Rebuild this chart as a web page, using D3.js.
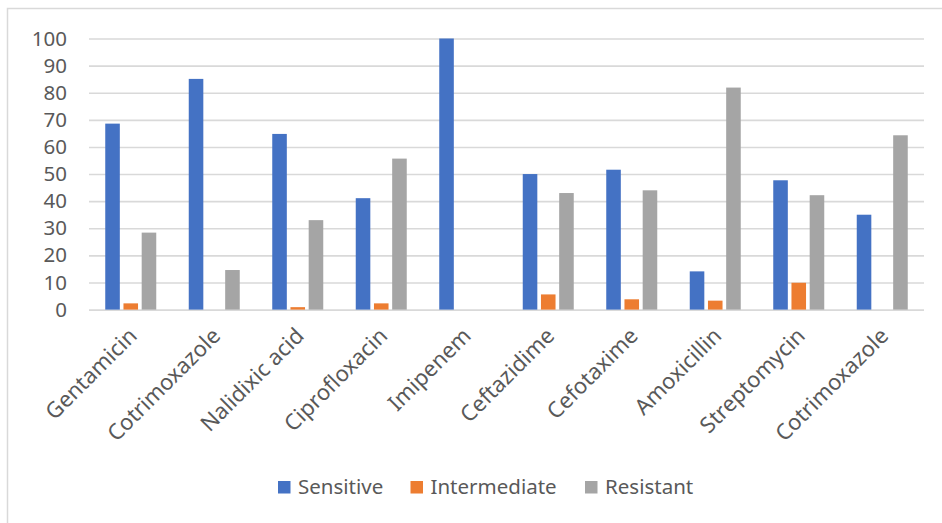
<!DOCTYPE html>
<html>
<head>
<meta charset="utf-8">
<script src="https://cdn.jsdelivr.net/npm/d3@7"></script>
<style>
  html, body { margin: 0; padding: 0; background: #fff; }
  svg { display: block; }
  text { font-family: "Noto Sans", "Open Sans", sans-serif; fill: #595959; }
</style>
</head>
<body>
<svg id="chart" width="942" height="523"></svg>
<script>
// Antibiotic susceptibility (%) by drug
const drugs = ["Gentamicin", "Cotrimoxazole", "Nalidixic acid", "Ciprofloxacin", "Imipenem",
               "Ceftazidime", "Cefotaxime", "Amoxicillin", "Streptomycin", "Cotrimoxazole"];
const sensitive    = [68.6, 85.1, 64.8, 41.1, 100, 50.0, 51.6, 14.1, 47.7, 35.0];
const intermediate = [2.3, 0, 0.9, 2.3, 0, 5.6, 3.8, 3.3, 9.9, 0];
const resistant    = [28.4, 14.6, 33.0, 55.7, 0, 43.0, 44.0, 81.9, 42.2, 64.3];
const seriesNames  = ["Sensitive", "Intermediate", "Resistant"];
const seriesColors = ["#4472C4", "#ED7D31", "#A5A5A5"];
const yTicks = [0, 10, 20, 30, 40, 50, 60, 70, 80, 90, 100];

const svg = d3.select("#chart");

// chart frame (left and top edges visible)
svg.append("path")
  .attr("d", "M7.5,523 L7.5,8.5 L942,8.5")
  .attr("fill", "none").attr("stroke", "#d9d9d9").attr("stroke-width", 1.5);

const plot = { left: 89, right: 924, top: 38.5, bottom: 309.6 };

const y = d3.scaleLinear().domain([0, 100]).range([plot.bottom, plot.top]);
const x0 = d3.scaleBand().domain(d3.range(drugs.length)).range([plot.left, plot.right]).padding(0);
const groupW = 51;
const off = (x0.bandwidth() - groupW) / 2;
const x1 = d3.scaleBand().domain(d3.range(3)).range([off, off + groupW]).paddingInner(0.2).paddingOuter(0);

// gridlines
const yAxis = d3.axisLeft(y).tickValues(yTicks).tickSize(-(plot.right - plot.left)).tickPadding(22);
const gy = svg.append("g").attr("transform", `translate(${plot.left},0)`).call(yAxis);
gy.select(".domain").remove();
gy.selectAll(".tick line").attr("stroke", "#d9d9d9").attr("stroke-width", 1.6);
gy.selectAll(".tick text").attr("font-size", 20.5).attr("fill", "#595959")
  .attr("font-family", '"Noto Sans", sans-serif');

// bars
const table = drugs.map((d, i) => [sensitive[i], intermediate[i], resistant[i]]);
const groups = svg.append("g").selectAll("g").data(table).join("g")
  .attr("transform", (d, i) => `translate(${x0(i)},0)`);
groups.selectAll("rect").data(d => d.map((v, k) => ({ v, k }))).join("rect")
  .filter(d => d.v > 0)
  .attr("x", d => x1(d.k))
  .attr("width", x1.bandwidth())
  .attr("y", d => y(d.v))
  .attr("height", d => y(0) - y(d.v))
  .attr("fill", d => seriesColors[d.k]);

// category labels
const xAxis = d3.axisBottom(x0).tickSize(0).tickFormat(i => drugs[i]);
const gx = svg.append("g").attr("transform", `translate(0,${plot.bottom})`).call(xAxis);
gx.select(".domain").remove();
gx.selectAll(".tick text")
  .attr("font-size", 22).attr("fill", "#595959")
  .attr("font-family", '"Noto Sans", sans-serif')
  .attr("text-anchor", "end")
  .attr("dy", null)
  .attr("y", 0)
  .attr("transform", "translate(-6,14) rotate(-45)")
  .attr("dominant-baseline", "hanging");

// legend
const legendX = [278, 410.5, 585];
const lg = svg.append("g");
seriesNames.forEach((name, k) => {
  lg.append("rect").attr("x", legendX[k]).attr("y", 481).attr("width", 12.5).attr("height", 12.5)
    .attr("fill", seriesColors[k]);
  lg.append("text").attr("x", legendX[k] + 20).attr("y", 494)
    .attr("font-size", 20.5).text(name);
});
</script>
</body>
</html>
